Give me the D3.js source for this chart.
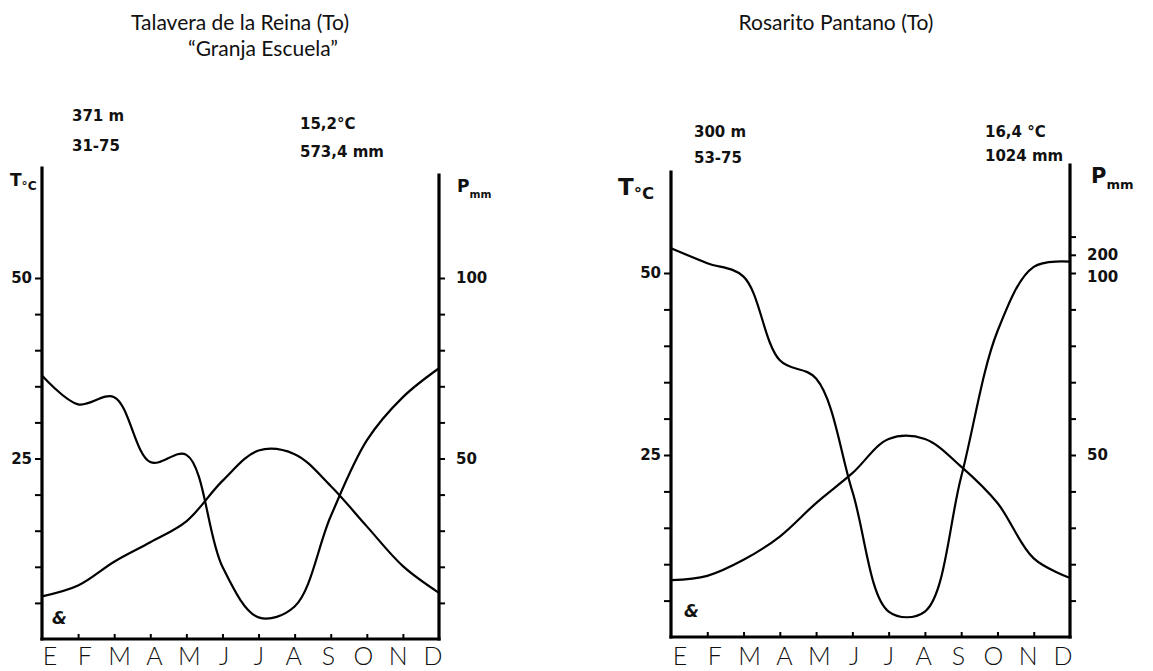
<!DOCTYPE html>
<html>
<head>
<meta charset="utf-8">
<script src="https://cdn.jsdelivr.net/npm/d3@7/dist/d3.min.js"></script>
<style>
  html, body { margin: 0; padding: 0; background: #fff; }
  svg { display: block; }
</style>
</head>
<body>
<svg id="chart" width="1153" height="671"></svg>
<script>
// ---------- DATA ----------
const months = ["E","F","M","A","M","J","J","A","S","O","N","D"];

// Talavera de la Reina (To) "Granja Escuela"
const talaveraTemp = [5.9, 7.4, 10.7, 13.4, 16.3, 21.9, 26.1, 25.6, 21.2, 15.6, 10.1, 6.4];
const talaveraPrec = [73, 65, 67, 49, 51, 20, 6, 9, 34, 55, 67, 75];

// Rosarito Pantano (To)
const rosaritoTemp = [7.8, 8.4, 10.6, 13.8, 18.4, 22.5, 27.2, 27.2, 23.4, 18.4, 10.8, 8.1];
const rosaritoPrec = [168, 127, 99, 76, 71, 40, 7, 7, 44, 84, 117, 131];

const tempTicks = [5, 10, 15, 20, 25, 30, 35, 40, 45, 50];
const tempTickLabels = [25, 50];
const precTicks = [10, 20, 30, 40, 50, 60, 70, 80, 90, 100];
const precTickLabels = [50, 100];
const precTicksUpper = [150, 200];
const precTickLabelsUpper = [200];

const stations = [
  {
    title: ["Talavera de la Reina (To)", "\u201CGranja Escuela\u201D"],
    altitude: "371 m", period: "31-75", meanT: "15,2°C", totalP: "573,4 mm",
    temp: talaveraTemp, prec: talaveraPrec, upper: false
  },
  {
    title: ["Rosarito Pantano (To)"],
    altitude: "300 m", period: "53-75", meanT: "16,4 °C", totalP: "1024 mm",
    temp: rosaritoTemp, prec: rosaritoPrec, upper: true
  }
];

// ---------- LAYOUT ----------
const layouts = [
  { x0: 42, x1: 439, yBottom: 639, y50: 278, leftTop: 168, rightTop: 175,
    titleX: [240, 263], titleY: [30, 56],
    altX: 72, altY: 121, perY: 151, metaX: 300, meanY: 129, totY: 157,
    tLab: {x: 10, y: 186, size: 17}, pLab: {x: 457, y: 192, size: 17},
    monthLab: [50, 433], sym: {x: 52, y: 624} },
  { x0: 671, x1: 1070, yBottom: 637, y50: 273, leftTop: 172, rightTop: 165,
    titleX: [836], titleY: [30],
    altX: 694, altY: 137, perY: 163, metaX: 985, meanY: 137, totY: 161,
    tLab: {x: 618, y: 195, size: 23}, pLab: {x: 1091, y: 183, size: 21},
    monthLab: [680, 1063], sym: {x: 684, y: 617} }
];

const svg = d3.select("#chart");
svg.append("rect").attr("width", 1153).attr("height", 671).attr("fill", "#fff");

const titleFont = "Lato, 'Open Sans', sans-serif";
const handFont = "'DejaVu Sans', Verdana, sans-serif";

stations.forEach((st, i) => {
  const L = layouts[i];
  const g = svg.append("g");

  const x = d3.scalePoint().domain(d3.range(12)).range([L.x0, L.x1]);
  const xLab = d3.scalePoint().domain(d3.range(12)).range(L.monthLab);
  const yT = d3.scaleLinear().domain([0, 50]).range([L.yBottom, L.y50]);
  const pxPerMm = (L.yBottom - L.y50) / 100;
  const yP = d3.scaleLinear()
    .domain([0, 100, 300])
    .range([L.yBottom, L.y50, L.y50 - 200 * pxPerMm / 10]);

  // Titles
  st.title.forEach((t, k) => {
    g.append("text").attr("x", L.titleX[k]).attr("y", L.titleY[k])
      .attr("text-anchor", "middle")
      .attr("font-family", titleFont).attr("font-size", 21)
      .attr("fill", "#111").text(t);
  });

  // Handwritten annotations
  const hand = (tx, ty, txt) => g.append("text").attr("x", tx).attr("y", ty)
    .attr("font-family", handFont).attr("font-weight", "bold")
    .attr("font-size", 15).attr("fill", "#111").text(txt);
  hand(L.altX, L.altY, st.altitude);
  hand(L.altX, L.perY, st.period);
  hand(L.metaX, L.meanY, st.meanT);
  hand(L.metaX, L.totY, st.totalP);

  // Axis spines
  const spine = (x1, y1, x2, y2) => g.append("line")
    .attr("x1", x1).attr("y1", y1).attr("x2", x2).attr("y2", y2)
    .attr("stroke", "#000").attr("stroke-width", 3.2).attr("stroke-linecap", "square");
  spine(L.x0, L.leftTop, L.x0, L.yBottom);
  spine(L.x1, L.rightTop, L.x1, L.yBottom);
  spine(L.x0, L.yBottom, L.x1, L.yBottom);

  // Temperature axis (left)
  const axT = d3.axisLeft(yT).tickValues(tempTicks).tickSize(7).tickPadding(3)
    .tickFormat(d => tempTickLabels.includes(d) ? d : "");
  const gT = g.append("g").attr("transform", `translate(${L.x0},0)`).call(axT);
  gT.select(".domain").remove();
  gT.selectAll(".tick line").attr("stroke", "#000").attr("stroke-width", 2);
  gT.selectAll(".tick text").attr("font-family", handFont).attr("font-weight", "bold")
    .attr("font-size", 15).attr("fill", "#111");

  // Precipitation axis (right)
  const pVals = st.upper ? precTicks.concat(precTicksUpper) : precTicks;
  const pLabels = st.upper ? precTickLabels.concat(precTickLabelsUpper) : precTickLabels;
  const axP = d3.axisRight(yP).tickValues(pVals).tickSize(6).tickPadding(11)
    .tickFormat(d => pLabels.includes(d) ? d : "");
  const gP = g.append("g").attr("transform", `translate(${L.x1},0)`).call(axP);
  gP.select(".domain").remove();
  gP.selectAll(".tick line").attr("stroke", "#000").attr("stroke-width", 2);
  gP.selectAll(".tick text").attr("font-family", handFont).attr("font-weight", "bold")
    .attr("font-size", 15).attr("fill", "#111");
  // hand-written "200" sits just above "100"
  gP.selectAll(".tick text").filter(d => d === 200).attr("dy", "1.5em");
  gP.selectAll(".tick text").filter(d => d === 100 && st.upper).attr("dy", "0.55em");

  // Month axis (bottom), ticks pointing inward
  const axM = d3.axisTop(x).tickValues(d3.range(1, 11)).tickSize(5).tickFormat("");
  const gM = g.append("g").attr("transform", `translate(0,${L.yBottom})`).call(axM);
  gM.select(".domain").remove();
  gM.selectAll(".tick line").attr("stroke", "#000").attr("stroke-width", 2);

  g.selectAll("text.month").data(months).join("text")
    .attr("class", "month")
    .attr("x", (d, k) => xLab(k)).attr("y", 665)
    .attr("text-anchor", "middle")
    .attr("font-family", titleFont).attr("font-weight", 300)
    .attr("font-size", 25).attr("fill", "#111").text(d => d);

  // Axis titles
  const tl = g.append("text").attr("x", L.tLab.x).attr("y", L.tLab.y)
    .attr("font-family", handFont).attr("font-weight", "bold").attr("fill", "#111");
  tl.append("tspan").attr("font-size", L.tLab.size).text("T");
  tl.append("tspan").attr("font-size", L.tLab.size * 0.72).attr("dy", 4).text("°C");
  const pl = g.append("text").attr("x", L.pLab.x).attr("y", L.pLab.y)
    .attr("font-family", handFont).attr("font-weight", "bold").attr("fill", "#111");
  pl.append("tspan").attr("font-size", L.pLab.size).text("P");
  pl.append("tspan").attr("font-size", L.pLab.size * 0.62).attr("dy", 6).text("mm");

  // Symbol
  g.append("text").attr("x", L.sym.x).attr("y", L.sym.y)
    .attr("font-family", handFont).attr("font-weight", "bold").attr("font-style", "italic")
    .attr("font-size", 17).attr("fill", "#111").text("&");

  // Curves
  const lineT = d3.line().x((d, k) => x(k)).y(d => yT(d)).curve(d3.curveCatmullRom.alpha(0.5));
  const lineP = d3.line().x((d, k) => x(k)).y(d => yP(d)).curve(d3.curveCatmullRom.alpha(0.5));
  g.append("path").datum(st.temp).attr("d", lineT)
    .attr("fill", "none").attr("stroke", "#000").attr("stroke-width", 2.2);
  g.append("path").datum(st.prec).attr("d", lineP)
    .attr("fill", "none").attr("stroke", "#000").attr("stroke-width", 2.2);
});
</script>
</body>
</html>
